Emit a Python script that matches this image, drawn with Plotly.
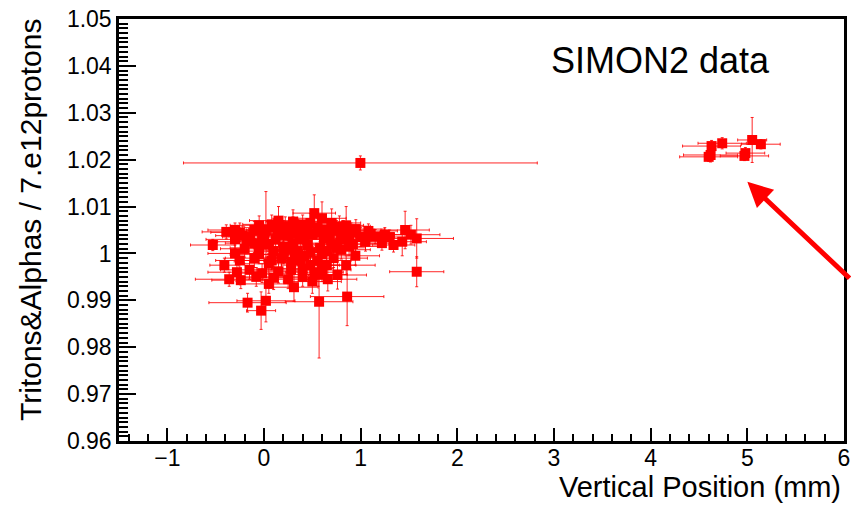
import plotly.graph_objects as go

# ---- data ----
# main cluster
x_main = [0.52, 0.60, 0.85, 0.15, 0.30, 0.70, 0.40, 0.02, -0.05,
          -0.39, -0.25, -0.10, 0.10, 0.20, 0.35, 0.45, 0.55, 0.65, 0.75, 0.90,
          1.15, 1.46, 1.58, 1.34, 1.25, 1.10, 1.00, 1.22, 1.43,
          -0.53, -0.30, -0.15, 0.00, 0.12, 0.25, 0.38, 0.50, 0.62, 0.80, 0.92,
          0.05, 0.20, 0.30, 0.45, 0.58, 0.70, -0.20, -0.05, 0.10, 0.35, 0.945, 0.80,
          -0.41, -0.25, -0.10, 0.05, 0.18, 0.28, 0.42, 0.55, 0.65, 0.76, 0.60, 0.40,
          0.15, -0.15, 1.58,
          -0.36, -0.24, -0.08, 0.10, 0.31, 0.25, 0.50, 0.66,
          -0.17, 0.02, -0.03, 0.57, 0.86,
          0.08, 0.22, 0.48, 0.78, 0.95, -0.30, -0.18, -0.02, 0.16, 0.33,
          0.42, 0.68, 0.88, 1.05, 0.25, 0.48, 0.65, 0.72, -0.30, -0.05,
          0.32, 0.08, 0.48, 0.28, -0.02, 0.85, 0.56, -0.28, 1.30, 1.52,
          0.38, 0.20, 0.60, 0.75, 0.88, -0.10, 0.14, 0.58, 0.82, 0.30,
          -0.22, 0.52, 0.05, 0.40, 1.08]
y_main = [1.0086, 1.0075, 1.0060, 1.0070, 1.0068, 1.0065, 1.0062, 1.0050, 1.0060,
          1.0046, 1.0045, 1.0050, 1.0055, 1.0048, 1.0052, 1.0045, 1.0055, 1.0050, 1.0048, 1.0045,
          1.0036, 1.0050, 1.0032, 1.0018, 1.0040, 1.0042, 1.0035, 1.0022, 1.0025,
          1.0018, 1.0030, 1.0035, 1.0040, 1.0030, 1.0038, 1.0030, 1.0040, 1.0032, 1.0030, 1.0020,
          1.0020, 1.0015, 1.0022, 1.0018, 1.0012, 1.0020, 1.0010, 1.0012, 1.0005, 1.0005, 0.9995, 1.0008,
          0.9975, 0.9985, 0.9990, 0.9978, 0.9990, 0.9982, 0.9995, 0.9985, 0.9975, 0.9954, 0.9965, 0.9968,
          0.9962, 0.9965, 0.9961,
          0.9945, 0.9943, 0.9950, 0.9948, 0.9928, 0.9945, 0.9940, 0.9945,
          0.9895, 0.9899, 0.9878, 0.9897, 0.9908,
          1.0062, 1.0058, 1.0065, 1.0058, 1.0052, 1.0050, 1.0025, 1.0028, 1.0040, 1.0042,
          1.0035, 1.0040, 1.0035, 1.0025, 1.0008, 1.0002, 1.0005, 0.9990, 1.0000, 0.9998,
          0.9992, 0.9985, 0.9975, 0.9965, 0.9958, 0.9975, 0.9955, 0.9960, 1.0035, 1.0040,
          0.9985, 0.9998, 0.9998, 1.0012, 1.0015, 1.0022, 1.0048, 1.0045, 1.0050, 1.0058,
          1.0038, 0.9960, 0.9935, 0.9950, 1.0048]
xerr_main = [0.22, 0.25, 0.18, 0.30, 0.28, 0.30, 0.35, 0.20, 0.30,
             0.25, 0.30, 0.25, 0.30, 0.25, 0.35, 0.30, 0.40, 0.30, 0.35, 0.30,
             0.20, 0.25, 0.38, 0.22, 0.30, 0.25, 0.30, 0.20, 0.25,
             0.23, 0.30, 0.28, 0.32, 0.30, 0.35, 0.30, 0.32, 0.30, 0.35, 0.30,
             0.25, 0.30, 0.35, 0.30, 0.28, 0.30, 0.25, 0.30, 0.30, 0.32, 0.25, 0.30,
             0.15, 0.25, 0.30, 0.25, 0.30, 0.28, 0.30, 0.35, 0.30, 0.30, 0.30, 0.32,
             0.28, 0.30, 0.28,
             0.35, 0.30, 0.28, 0.30, 0.25, 0.30, 0.30, 0.30,
             0.40, 0.30, 0.15, 0.35, 0.38,
             0.30, 0.30, 0.30, 0.32, 0.30, 0.28, 0.30, 0.30, 0.35, 0.30,
             0.30, 0.35, 0.35, 0.30, 0.30, 0.30, 0.30, 0.35, 0.28, 0.30,
             0.30, 0.30, 0.30, 0.30, 0.30, 0.30, 0.30, 0.30, 0.30, 0.30,
             0.30, 0.30, 0.32, 0.30, 0.35, 0.30, 0.30, 0.32, 0.30, 0.30,
             0.28, 0.30, 0.30, 0.30, 0.30]
yerr_main = [0.0039, 0.0035, 0.0040, 0.0030, 0.0025, 0.0030, 0.0020, 0.0082, 0.0020,
             0.0015, 0.0020, 0.0018, 0.0020, 0.0022, 0.0020, 0.0025, 0.0020, 0.0020, 0.0022, 0.0020,
             0.0015, 0.0040, 0.0042, 0.0015, 0.0015, 0.0015, 0.0020, 0.0015, 0.0030,
             0.0012, 0.0020, 0.0018, 0.0020, 0.0022, 0.0020, 0.0020, 0.0025, 0.0020, 0.0020, 0.0020,
             0.0020, 0.0020, 0.0025, 0.0020, 0.0025, 0.0020, 0.0018, 0.0020, 0.0022, 0.0020, 0.0020, 0.0020,
             0.0015, 0.0020, 0.0020, 0.0020, 0.0025, 0.0020, 0.0025, 0.0020, 0.0020, 0.0030, 0.0025, 0.0022,
             0.0025, 0.0020, 0.0032,
             0.0015, 0.0018, 0.0020, 0.0025, 0.0030, 0.0020, 0.0025, 0.0025,
             0.0020, 0.0045, 0.0040, 0.0120, 0.0062,
             0.0020, 0.0020, 0.0020, 0.0022, 0.0020, 0.0015, 0.0020, 0.0020, 0.0020, 0.0020,
             0.0020, 0.0020, 0.0020, 0.0020, 0.0020, 0.0020, 0.0020, 0.0020, 0.0018, 0.0020,
             0.0020, 0.0020, 0.0020, 0.0022, 0.0020, 0.0020, 0.0025, 0.0020, 0.0015, 0.0020,
             0.0020, 0.0020, 0.0020, 0.0020, 0.0020, 0.0020, 0.0020, 0.0020, 0.0020, 0.0020,
             0.0020, 0.0020, 0.0020, 0.0020, 0.0015]

# isolated point
x_iso = [0.997]
y_iso = [1.0193]
xerr_iso = [1.83]
yerr_iso = [0.0015]

# right cluster
x_right = [4.63, 4.74, 4.60, 4.62, 4.98, 4.97, 5.05, 5.14]
y_right = [1.0229, 1.0235, 1.0206, 1.0210, 1.0214, 1.0208, 1.0242, 1.0233]
xerr_right = [0.30, 0.25, 0.30, 0.28, 0.20, 0.25, 0.15, 0.20]
yerr_right = [0.0012, 0.0012, 0.0010, 0.0015, 0.0012, 0.0010, 0.0048, 0.0010]

x_all = x_main + x_iso + x_right
y_all = y_main + y_iso + y_right
xerr_all = xerr_main + xerr_iso + xerr_right
yerr_all = yerr_main + yerr_iso + yerr_right

y_tickvals = [0.96, 0.97, 0.98, 0.99, 1.00, 1.01, 1.02, 1.03, 1.04, 1.05]
y_ticktext = ["0.96", "0.97", "0.98", "0.99", "1", "1.01", "1.02", "1.03", "1.04", "1.05"]
x_tickvals = [-1, 0, 1, 2, 3, 4, 5, 6]
x_ticktext = ["\u22121", "0", "1", "2", "3", "4", "5", "6"]

arrow_tip = (5.0, 1.0153)

FONT = "Liberation Sans, Arial, Helvetica, sans-serif"
RED = "#ff0000"
ERR = "rgba(255,0,0,0.85)"

fig = go.Figure()
fig.add_trace(go.Scatter(
    x=x_all, y=y_all, mode="markers",
    marker=dict(symbol="square", size=10, color=RED, line=dict(width=0)),
    error_x=dict(type="data", array=xerr_all, color=ERR, thickness=1, width=1.5),
    error_y=dict(type="data", array=yerr_all, color=ERR, thickness=1, width=1.5),
    showlegend=False,
))

fig.update_layout(
    width=851, height=506,
    margin=dict(l=119, r=7, t=19, b=65),
    paper_bgcolor="white", plot_bgcolor="white",
    font=dict(family=FONT, color="black"),
    xaxis=dict(
        range=[-1.5, 6], tickmode="array", tickvals=x_tickvals, ticktext=x_ticktext,
        ticks="inside", ticklen=13, tickwidth=2, tickcolor="black",
        showline=True, linewidth=2.5, linecolor="black", mirror=True,
        showgrid=False, zeroline=False, automargin=False,
        ticklabelstandoff=-5,
        tickfont=dict(family=FONT, size=23, color="black"),
        minor=dict(tickmode="linear", tick0=0, dtick=0.2, ticks="inside",
                   ticklen=7, tickwidth=2, tickcolor="black", showgrid=False),
    ),
    yaxis=dict(
        range=[0.96, 1.05], tickmode="array", tickvals=y_tickvals, ticktext=y_ticktext,
        ticks="inside", ticklen=17, tickwidth=2, tickcolor="black",
        showline=True, linewidth=2.5, linecolor="black", mirror=True,
        showgrid=False, zeroline=False, automargin=False,
        tickfont=dict(family=FONT, size=23, color="black"),
        minor=dict(tickmode="linear", tick0=0.96, dtick=0.001, ticks="inside",
                   ticklen=9, tickwidth=2, tickcolor="black", showgrid=False),
    ),
    annotations=[
        dict(text="Vertical Position (mm)", xref="paper", yref="paper",
             x=0.9986, y=-0.1090, xanchor="right", yanchor="middle",
             showarrow=False, font=dict(family=FONT, size=29, color="black")),
        dict(text="Tritons&Alphas / 7.e12protons", xref="paper", yref="paper",
             x=-0.1228, y=1.0047, xanchor="center", yanchor="top", textangle=-90,
             showarrow=False, font=dict(family=FONT, size=30, color="black")),
        dict(text="SIMON2 data", xref="paper", yref="paper",
             x=0.5925, y=0.9017, xanchor="left", yanchor="middle",
             showarrow=False, font=dict(family=FONT, size=36, color="black")),
        dict(text="", x=arrow_tip[0], y=arrow_tip[1], xref="x", yref="y",
             showarrow=True, arrowhead=2, arrowsize=1.0, arrowwidth=5,
             arrowcolor=RED, ax=130, ay=98),
    ],
)

fig.write_html("out.html")
